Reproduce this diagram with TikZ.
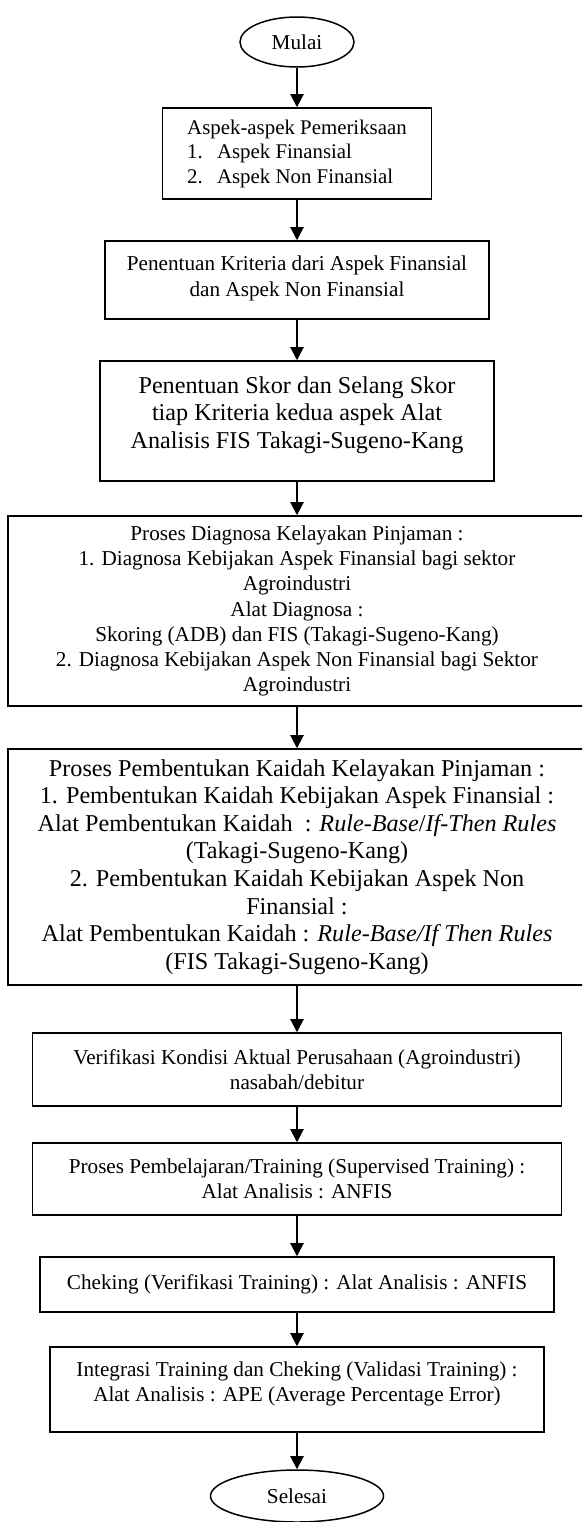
\documentclass[tikz,border=0pt]{standalone}
\usepackage{fontspec}
\setmainfont{Liberation Serif}
\usetikzlibrary{arrows.meta,shapes.geometric}

\newcommand{\pxl}{0.604pt}

\begin{document}
\begin{tikzpicture}[x=0.604pt,y=-0.604pt,
		box/.style 2 args={draw,line width=0.9pt,inner sep=0pt,align=center,minimum width=#1*\pxl,minimum height=#2*\pxl,font=\fontsize{12.8}{15.2}\selectfont},
		term/.style 2 args={draw,ellipse,line width=0.9pt,inner sep=0pt,minimum width=#1*\pxl,minimum height=#2*\pxl,font=\fontsize{12.8}{15.2}\selectfont},
		big/.style={font=\fontsize{14.6}{16.7}\selectfont},
		flow/.style={-{Triangle[length=8pt,width=8pt]},line width=1.2pt}]
		\useasboundingbox (0,0) rectangle (582,1522);
		\clip (0,0) rectangle (582,1522);
		
		\node[term={114}{50}] (s0) at (297,42) {Mulai};
		\node[box={269}{91},align=left,font=\fontsize{12.6}{14.8}\selectfont] (b1) at (297,153.5) {Aspek-aspek Pemeriksaan\\
			\makebox[18pt][l]{1.}Aspek Finansial\\
			\makebox[18pt][l]{2.}Aspek Non Finansial};
		\node[box={384}{78},text depth=4.6pt] (b2) at (297,280) {Penentuan Kriteria dari Aspek Finansial\\dan Aspek Non Finansial};
		\node[box={394}{120},big,text depth=10.4pt] (b3) at (297,421) {Penentuan Skor dan Selang Skor\\tiap Kriteria kedua aspek Alat\\Analisis FIS Takagi-Sugeno-Kang};
		\node[box={578}{190}] (b4) at (297,611) {Proses Diagnosa Kelayakan Pinjaman :\\
			1. Diagnosa Kebijakan Aspek Finansial bagi sektor\\
			Agroindustri\\
			Alat Diagnosa :\\
			Skoring (ADB) dan FIS (Takagi-Sugeno-Kang)\\
			2. Diagnosa Kebijakan Aspek Non Finansial bagi Sektor\\
			Agroindustri};
		\node[box={578}{236},big] (b5) at (297,867) {Proses Pembentukan Kaidah Kelayakan Pinjaman :\\
			1. Pembentukan Kaidah Kebijakan Aspek Finansial :\\
			Alat Pembentukan Kaidah~ : \textit{Rule-Base}/\textit{If-Then Rules}\\
			(Takagi-Sugeno-Kang)\\
			2. Pembentukan Kaidah Kebijakan Aspek Non\\
			Finansial :\\
			Alat Pembentukan Kaidah : \textit{Rule-Base/If Then Rules}\\
			(FIS Takagi-Sugeno-Kang)};
		\node[box={529}{73}] (b6) at (297,1069.5) {Verifikasi Kondisi Aktual Perusahaan (Agroindustri)\\nasabah/debitur};
		\node[box={529}{72}] (b7) at (297,1179) {Proses Pembelajaran/Training (Supervised Training) :\\Alat Analisis : ANFIS};
		\node[box={514}{55}] (b8) at (297,1284.5) {Cheking (Verifikasi Training) : Alat Analisis : ANFIS};
		\node[box={494}{85},text depth=10pt] (b9) at (297,1389.5) {Integrasi Training dan Cheking (Validasi Training) :\\Alat Analisis : APE (Average Percentage Error)};
		\node[term={173}{52}] (s1) at (297,1496) {Selesai};
		
		\foreach \a/\b in {s0/b1, b1/b2, b2/b3, b3/b4, b4/b5, b5/b6, b6/b7, b7/b8, b8/b9, b9/s1}
			\draw[flow] (\a) -- (\b);
	\end{tikzpicture}
\end{document}
